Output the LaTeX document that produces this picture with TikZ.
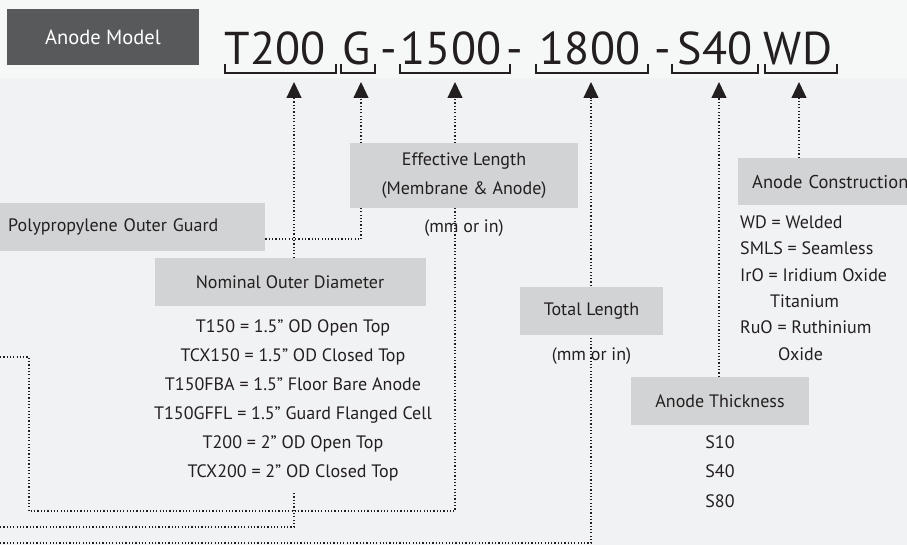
\documentclass[tikz,border=0pt]{standalone}
\usepackage{fontspec}
\setmainfont{PT Sans}
\usepackage{xcolor}
\usepackage{tikz}
\usetikzlibrary{arrows.meta,positioning,calc}
\definecolor{anodedark}{RGB}{88, 89, 91}
\definecolor{anodegray}{RGB}{209, 211, 212}
\definecolor{anodeink}{RGB}{35, 31, 32}
\definecolor{anodebgtop}{RGB}{246, 247, 247}
\definecolor{anodebg}{RGB}{241, 242, 244}
\pgfdeclarelayer{back}
\pgfdeclarelayer{links}
\pgfsetlayers{back,links,main}

\begin{document}
\begin{tikzpicture}[x=1pt, y=-1pt, >={Triangle[length=16pt, width=15pt]},
  titlebox/.style={fill=anodedark, text=white, minimum width=192pt, minimum height=56pt, inner sep=0pt, font=\fontsize{20.5}{24}\selectfont},
  seg/.style={anchor=base, text=anodeink, inner sep=0pt, font=\fontsize{46}{50}\selectfont},
  tagbox/.style={fill=anodegray, text=anodeink, minimum height=48pt, inner sep=0pt, align=center, font=\fontsize{18}{29}\selectfont},
  note/.style={text=anodeink, inner sep=0pt, align=center, font=\fontsize{18}{29}\selectfont},
  brk/.style={draw=anodeink, line width=1.3pt},
  link/.style={draw=anodeink, line width=1.2pt, dash pattern=on 1.2pt off 2.1pt}
]

  % Background
  \begin{pgfonlayer}{back}
    \fill[anodebg] (0,0) rectangle (907,545);
    \fill[anodebgtop] (0,0) rectangle (907,78);
  \end{pgfonlayer}
  \useasboundingbox (0,0) rectangle (907,545);

  % Model code
  \node[titlebox] (model) at (103,37) {Anode Model};
  \node[seg] (t200) at (275,65) {T200};
  \node[seg] (guard) at (357,65) {G};
  \node[seg] (dash1) at (389,65) {-};
  \node[seg] (l1500) at (451,65) {1500};
  \node[seg] (dash2) at (515,65) {-};
  \node[seg] (l1800) at (590,65) {1800};
  \node[seg] (dash3) at (663,65) {-};
  \node[seg] (s40) at (715,65) {S40};
  \node[seg] (wd) at (798,65) {WD};

  % Brackets
  \draw[brk] (225,64) |- (336,73) -- (336,64);
  \draw[brk] (341,64) |- (375,73) -- (375,64);
  \draw[brk] (400,64) |- (510,73) -- (510,64);
  \draw[brk] (536,64) |- (648,73) -- (648,64);
  \draw[brk] (672,64) |- (758,73) -- (758,64);
  \draw[brk] (765,64) |- (837,73) -- (837,64);

  % Arrow tips
  \coordinate (tipT) at (294,82);
  \coordinate (tipG) at (361,82);
  \coordinate (tipE) at (455,82);
  \coordinate (tipL) at (591,82);
  \coordinate (tipS) at (719,82);
  \coordinate (tipW) at (799,82);

  % Description boxes
  \node[tagbox, text width=249pt, inner xsep=8pt, align=left, anchor=west] (poly) at (0,227) {Polypropylene Outer Guard};
  \node[tagbox, minimum width=228pt, minimum height=65pt] (eff) at (464,175.5) {Effective Length\\(Membrane \& Anode)};
  \node[note, below=11pt of eff] (effunit) {(mm or in)};
  \node[tagbox, minimum width=271pt] (nod) at (290,282) {Nominal Outer Diameter};
  \node[note, below=13pt of nod, xshift=3pt] (nodlist) {T150 = 1.5” OD Open Top\\TCX150 = 1.5” OD Closed Top\\T150FBA = 1.5” Floor Bare Anode\\T150GFFL = 1.5” Guard Flanged Cell\\T200 = 2” OD Open Top\\TCX200 = 2” OD Closed Top};
  \node[tagbox, minimum width=143pt] (total) at (591.5,311) {Total Length};
  \node[note, below=12pt of total] (totalunit) {(mm or in)};
  \node[tagbox, minimum width=178pt] (thick) at (720,401) {Anode Thickness};
  \node[note, below=10pt of thick, font=\fontsize{18}{29.5}\selectfont] (thicklist) {S10\\S40\\S80};
  \node[tagbox, minimum height=47pt, text width=172pt, inner xsep=14pt, align=left, anchor=north west, font=\fontsize{18.5}{29}\selectfont] (cons) at (738,158) {Anode Construction};
  \node[note, align=left, below=10pt of cons.south west, anchor=north west, xshift=2pt, font=\fontsize{18}{26.4}\selectfont] (conslist) {WD = Welded\\SMLS = Seamless\\IrO = Iridium Oxide\\\hspace*{30pt}Titanium\\RuO = Ruthinium\\\hspace*{38pt}Oxide};

  % Off-picture ends
  \coordinate (offE) at (0,357);
  \coordinate (offN) at (0,527);
  \coordinate (offL) at (0,543);

  % Dotted connectors
  \begin{pgfonlayer}{links}
    \draw[link,->] (tipT |- nod.north) -- (tipT);
    \draw[link,->] ([yshift=-12pt]poly.east) -| (tipG);
    \draw[link,->] (offE) -| (29,511) -| (tipE);
    \draw[link,->] (offL) -| (tipL);
    \draw[link] (offN) -| ([yshift=-12pt]tipT |- nodlist.south);
    \draw[link,->] (tipS |- thick.north) -- (tipS);
    \draw[link,->] (tipW |- cons.north) -- (tipW);
  \end{pgfonlayer}

\end{tikzpicture}
\end{document}
